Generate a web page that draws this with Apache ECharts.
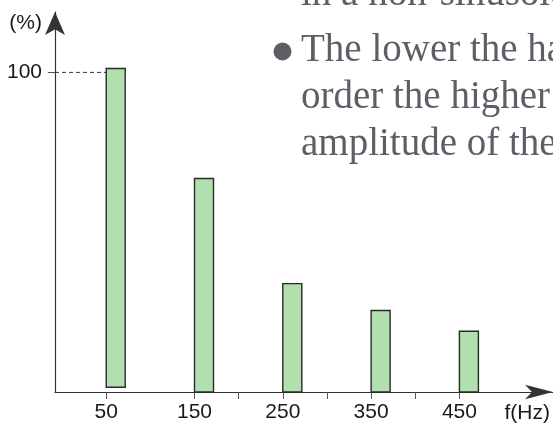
<!DOCTYPE html>
<html>
<head>
<meta charset="utf-8">
<script src="https://cdn.jsdelivr.net/npm/echarts@6/dist/echarts.min.js"></script>
<style>
    html, body { margin: 0; padding: 0; background: #fff; }
    #harmonicChart { width: 553px; height: 424px; }
</style>
</head>
<body>
<div id="harmonicChart"></div>
<script>
// harmonic spectrum, values
var freqHz = [50, 150, 250, 350, 450];
var amplitude = [101.2, 66.8, 33.9, 25.5, 19.0];
var barBase = [1.5, 0, 0, 0, 0];

var xTickValues = [50, 150, 200, 250, 300, 350, 400, 450];
var xLabelValues = [50, 150, 250, 350, 450];
var yTickValues = [100];

var xMin = -8, xMax = 556;
var yMin = 0, yMax = 118.9;

var textLines = [
    'in a non-sinusoidal',
    'The lower the harmonic',
    'order the higher the',
    'amplitude of the'
];

function loadHarmonicChart() {
    var chartDom = document.getElementById('harmonicChart');
    var myChart = echarts.init(chartDom);
    var option;

    var barData = [];
    for (var i = 0; i < freqHz.length; i++) {
        barData.push([freqHz[i], amplitude[i], barBase[i]]);
    }
    // dashed guide from the y axis to the first bar at the labelled tick
    var refLine = [[xMin, yTickValues[0]], [freqHz[0], yTickValues[0]]];

    var labelFont = {
        fontFamily: 'Liberation Sans',
        fontSize: 21,
        color: '#1a1a1a'
    };

    var textColor = '#5d5e66';
    var serifFont = '39px "Liberation Serif"';
    var lineY = [-5, 51, 98, 145];
    var graphics = [{
        type: 'circle',
        shape: { cx: 282.5, cy: 51.5, r: 9 },
        style: { fill: textColor }
    }];
    for (var j = 0; j < textLines.length; j++) {
        graphics.push({
            type: 'text',
            x: 301,
            y: lineY[j],
            style: {
                text: textLines[j],
                font: serifFont,
                fill: textColor,
                verticalAlign: 'middle'
            }
        });
    }

    option = {
        animation: false,
        grid: { left: 55, right: 0, top: 12, bottom: 31 },
        xAxis: {
            type: 'value',
            min: xMin,
            max: xMax,
            name: 'f(Hz)',
            nameLocation: 'end',
            nameGap: -3,
            nameTextStyle: {
                fontFamily: 'Liberation Sans',
                fontSize: 21,
                color: '#1a1a1a',
                align: 'right',
                verticalAlign: 'top',
                padding: [11, 0, 0, 0]
            },
            splitLine: { show: false },
            axisLine: {
                onZero: false,
                lineStyle: { color: '#333', width: 1.2 },
                symbol: ['none', 'arrow'],
                symbolSize: [11, 28]
            },
            axisTick: {
                show: true,
                length: 7,
                customValues: xTickValues,
                lineStyle: { color: '#555' }
            },
            axisLabel: Object.assign({ margin: 10, customValues: xLabelValues }, labelFont)
        },
        yAxis: {
            type: 'value',
            min: yMin,
            max: yMax,
            name: '(%)',
            nameLocation: 'end',
            nameGap: 0,
            nameTextStyle: {
                fontFamily: 'Liberation Sans',
                fontSize: 21,
                color: '#1a1a1a',
                align: 'right',
                verticalAlign: 'top',
                padding: [1, 13, 0, 0]
            },
            splitLine: { show: false },
            axisLine: {
                show: true,
                onZero: false,
                lineStyle: { color: '#333', width: 1.2 },
                symbol: ['none', 'arrow'],
                symbolSize: [15, 23]
            },
            axisTick: {
                show: true,
                length: 7,
                customValues: yTickValues,
                lineStyle: { color: '#555' }
            },
            axisLabel: Object.assign({ margin: 13, customValues: yTickValues }, labelFont)
        },
        series: [{
            type: 'line',
            data: refLine,
            symbol: 'none',
            silent: true,
            lineStyle: { color: '#333', width: 1, type: [4, 3] }
        }, {
            type: 'custom',
            data: barData,
            renderItem: function (params, api) {
                var base = api.coord([api.value(0), api.value(2)]);
                var top = api.coord([api.value(0), api.value(1)]);
                return {
                    type: 'rect',
                    shape: {
                        x: base[0],
                        y: top[1],
                        width: 19,
                        height: base[1] - top[1]
                    },
                    style: {
                        fill: '#b1dfae',
                        stroke: '#2a2a2a',
                        lineWidth: 1.4
                    }
                };
            }
        }],
        graphic: graphics
    };

    myChart.setOption(option);

    window.addEventListener('resize', function () {
        setTimeout(function () {
            myChart.resize();
        }, 250);
    });
}

loadHarmonicChart();
</script>
</body>
</html>
